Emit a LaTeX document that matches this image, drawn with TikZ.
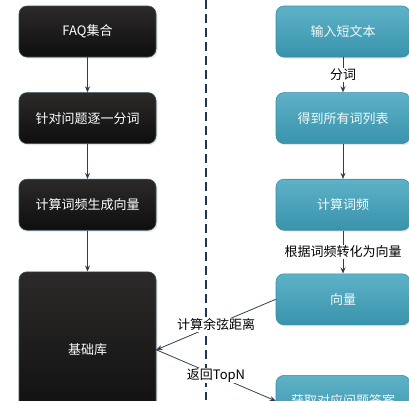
\documentclass[tikz,border=0pt]{standalone}
\usepackage{fontspec}
\setmainfont{Noto Sans CJK SC}
\usepackage{tikz}
\usetikzlibrary{arrows.meta,positioning,shadows}

\definecolor{darktop}{HTML}{2C2A29}
\definecolor{darkbot}{HTML}{0E0E0E}
\definecolor{tealtop}{HTML}{5EB2C7}
\definecolor{tealbot}{HTML}{3893AC}
\definecolor{tealedge}{HTML}{3A8CA3}
\definecolor{arrowcol}{HTML}{2F3E52}
\definecolor{sepcol}{HTML}{1E3555}

\begin{document}
\begin{tikzpicture}[
  x=1pt, y=1pt,
  node distance=35pt,
  blackbox/.style={draw=darktop!60!tealedge, line width=0.6pt, rounded corners=8pt,
    top color=darktop, bottom color=darkbot, text=white,
    minimum width=137pt, minimum height=51pt, align=center,
    font=\fontsize{13}{15}\selectfont,
    drop shadow={opacity=0.2, shadow xshift=1.5pt, shadow yshift=-1.5pt}},
  tealbox/.style={draw=tealedge, line width=0.6pt, rounded corners=8pt,
    top color=tealtop, bottom color=tealbot, text=white!92!tealtop,
    minimum width=134pt, minimum height=51pt, align=center,
    font=\fontsize{13}{15}\selectfont,
    drop shadow={opacity=0.2, shadow xshift=1.5pt, shadow yshift=-1.5pt}},
  arr/.style={-{Stealth[length=6pt, width=5pt]}, draw=arrowcol, line width=0.8pt},
  lbl/.style={fill=white, inner sep=1pt, font=\fontsize{13}{15}\selectfont}
]
  \useasboundingbox (0,0) rectangle (409,-400);

  % left column
  \node[blackbox] (faq) at (87.5,-31.5) {FAQ集合};
  \node[blackbox, below=of faq] (split) {针对问题逐一分词};
  \node[blackbox, below=of split] (tfvec) {计算词频生成向量};
  \node[blackbox, below=41pt of tfvec, minimum height=156pt] (base) {基础库};

  % right column
  \node[tealbox] (input) at (343,-31.5) {输入短文本};
  \node[tealbox, below=of input] (words) {得到所有词列表};
  \node[tealbox, below=of words] (freq) {计算词频};
  \node[tealbox, below=43pt of freq] (vector) {向量};
  \node[tealbox, below=50pt of vector] (answer) {获取对应问题答案};

  % separator
  \coordinate (septop) at (206,0);
  \coordinate (sepbot) at (206,-400);
  \draw[sepcol, line width=1.6pt, dash pattern=on 9pt off 5pt] (septop) -- (sepbot);

  \draw[arr] (faq) -- (split);
  \draw[arr] (split) -- (tfvec);
  \draw[arr] (tfvec) -- (base);

  \draw[arr] (input) -- node[lbl] {分词} (words);
  \draw[arr] (words) -- (freq);
  \draw[arr] (freq) -- node[lbl] {根据词频转化为向量} (vector);

  \draw[arr] (vector.west) -- node[lbl] {计算余弦距离} (base.east);
  \draw[arr] (base.east) -- node[lbl] {返回TopN} (answer.west);
\end{tikzpicture}
\end{document}
